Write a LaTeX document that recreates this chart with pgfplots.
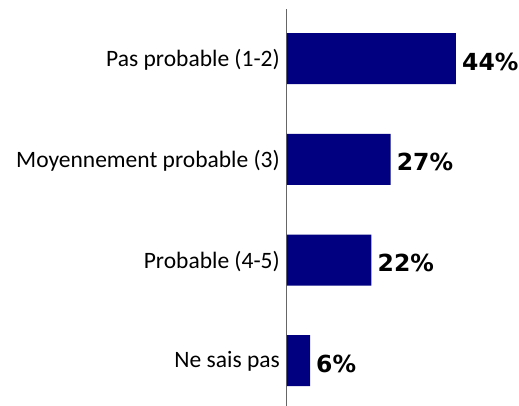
\documentclass[border=0pt]{standalone}
\usepackage{fontspec}
\setmainfont{Carlito}
\newfontfamily\pctfont{DejaVu Sans}
\usepackage{pgfplots}
\pgfplotsset{compat=1.18}
\definecolor{barnavy}{RGB}{0,0,128}
\begin{document}
\begin{tikzpicture}
\begin{axis}[
  at={(0,0)}, anchor=south west,
  scale only axis, width=230.4pt, height=396.6pt,
  xmin=0, xmax=60, ymin=-0.49, ymax=3.45, y dir=reverse,
  xbar, bar width=51pt, bar shift=0pt,
  axis y line*=left, axis x line=none,
  y axis line style={draw=gray!80!black, line width=1pt},
  ytick={0,1,2,3},
  yticklabels={Pas probable (1-2),Moyennement probable (3),Probable (4-5),Ne sais pas},
  major tick length=0pt,
  yticklabel style={font=\fontsize{23.5}{26}\selectfont, inner sep=0pt, xshift=-7pt, yshift=-1pt},
  nodes near coords={\pgfmathprintnumber[assume math mode=true]{\pgfplotspointmeta}\%},
  nodes near coords style={font=\pctfont\bfseries\fontsize{23.5}{26}\selectfont, anchor=west, inner sep=0pt, xshift=6pt, yshift=-3pt, text=black},
]
\addplot[fill=barnavy, draw=none] coordinates {(44,0) (27,1) (22,2) (6,3)};
\end{axis}
\pgfresetboundingbox
\path[use as bounding box] (-287pt,0) rectangle (232pt,406pt);
\end{tikzpicture}
\end{document}
